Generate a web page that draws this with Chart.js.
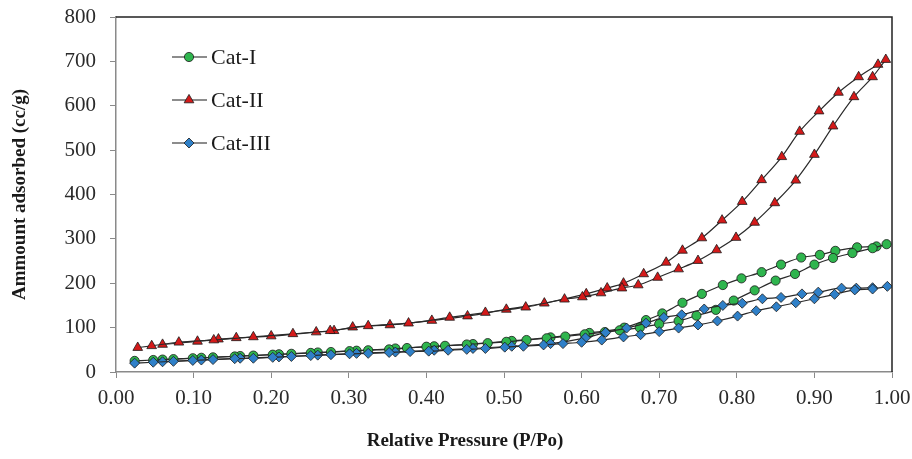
<!DOCTYPE html>
<html>
<head>
<meta charset="utf-8">
<script src="https://cdn.jsdelivr.net/npm/chart.js@4.4.0/dist/chart.umd.min.js"></script>
<style>
  html, body { margin: 0; padding: 0; background: #fff; }
  #wrap { width: 912px; height: 459px; }
</style>
</head>
<body>
<div id="wrap"><canvas id="isothermChart"></canvas></div>
<script>
// axis ticks
const xTicks = [0, 0.1, 0.2, 0.3, 0.4, 0.5, 0.6, 0.7, 0.8, 0.9, 1.0];
const yTicks = [0, 100, 200, 300, 400, 500, 600, 700, 800];

const seriesNames = ['Cat-I', 'Cat-II', 'Cat-III'];

// Cat-I adsorption / desorption (P/Po, cc/g)
const cat1AdsP = [0.024, 0.048, 0.074, 0.099, 0.125, 0.153, 0.177, 0.202, 0.226, 0.251, 0.277, 0.301, 0.325, 0.352, 0.375, 0.400, 0.424, 0.452, 0.479, 0.503, 0.529, 0.555, 0.579, 0.604, 0.630, 0.649, 0.675, 0.700, 0.725, 0.748, 0.773, 0.796, 0.823, 0.850, 0.875, 0.900, 0.924, 0.949, 0.975, 0.993];
const cat1AdsV = [25, 27, 29, 31, 33, 35, 37, 39, 41, 43, 45, 47, 49, 51, 54, 57, 59, 62, 65, 68, 72, 76, 80, 85, 90, 94, 100, 108, 115, 127, 140, 161, 184, 206, 221, 242, 257, 268, 279, 288];
const cat1DesP = [0.060, 0.110, 0.160, 0.210, 0.260, 0.310, 0.360, 0.410, 0.460, 0.510, 0.560, 0.610, 0.655, 0.683, 0.704, 0.730, 0.755, 0.782, 0.806, 0.832, 0.857, 0.883, 0.907, 0.927, 0.955, 0.980];
const cat1DesV = [28, 32, 36, 40, 44, 48, 53, 58, 63, 70, 78, 88, 100, 117, 132, 156, 176, 196, 211, 225, 242, 258, 264, 273, 281, 283];

// Cat-II
const cat2AdsP = [0.028, 0.046, 0.081, 0.126, 0.177, 0.228, 0.276, 0.325, 0.377, 0.430, 0.476, 0.528, 0.578, 0.601, 0.625, 0.652, 0.673, 0.698, 0.725, 0.750, 0.774, 0.799, 0.823, 0.849, 0.876, 0.900, 0.924, 0.951, 0.975, 0.992];
const cat2AdsV = [55, 59, 67, 72, 79, 86, 93, 104, 110, 123, 134, 146, 164, 169, 178, 189, 196, 213, 232, 251, 275, 303, 337, 381, 432, 490, 554, 620, 665, 704];
const cat2DesP = [0.060, 0.105, 0.132, 0.155, 0.200, 0.258, 0.281, 0.305, 0.353, 0.407, 0.453, 0.503, 0.552, 0.606, 0.633, 0.654, 0.680, 0.709, 0.730, 0.755, 0.781, 0.807, 0.832, 0.858, 0.881, 0.906, 0.931, 0.957, 0.982];
const cat2DesV = [62, 69, 74, 77, 81, 90, 93, 101, 106, 116, 126, 141, 155, 176, 189, 200, 221, 247, 274, 302, 342, 384, 433, 485, 542, 588, 630, 665, 693];

// Cat-III
const cat3AdsP = [0.024, 0.048, 0.074, 0.099, 0.125, 0.153, 0.177, 0.202, 0.226, 0.251, 0.277, 0.301, 0.325, 0.352, 0.379, 0.403, 0.428, 0.452, 0.476, 0.501, 0.525, 0.551, 0.576, 0.600, 0.626, 0.654, 0.676, 0.700, 0.725, 0.750, 0.775, 0.801, 0.825, 0.851, 0.876, 0.900, 0.926, 0.952, 0.975, 0.994];
const cat3AdsV = [20, 22, 24, 26, 28, 30, 31, 33, 35, 37, 39, 41, 42, 44, 46, 47, 49, 51, 53, 56, 58, 61, 64, 67, 72, 79, 84, 91, 99, 106, 115, 126, 138, 147, 156, 165, 175, 185, 187, 193];
const cat3DesP = [0.060, 0.110, 0.160, 0.210, 0.260, 0.310, 0.360, 0.410, 0.460, 0.510, 0.560, 0.605, 0.631, 0.658, 0.683, 0.706, 0.729, 0.758, 0.782, 0.807, 0.833, 0.857, 0.884, 0.905, 0.935, 0.954, 0.975];
const cat3DesV = [23, 27, 31, 34, 38, 42, 45, 49, 53, 58, 64, 77, 89, 99, 110, 123, 129, 142, 150, 155, 165, 168, 176, 180, 189, 189, 190];

const toPoints = (xs, ys) => xs.map((x, i) => ({ x: x, y: ys[i] }));

const lineColor = '#2a2a2a';
const styles = [
    { color: '#2fb54e', shape: 'circle', radius: 4.6, order: 2 },
    { color: '#d41a1a', shape: 'triangle', radius: 5.6, order: 1 },
    { color: '#2f80c8', shape: 'rectRot', radius: 5, order: 0 }
];

function makeSet(idx, xs, ys) {
    const s = styles[idx];
    return {
        label: seriesNames[idx],
        data: toPoints(xs, ys),
        showLine: true,
        borderColor: lineColor,
        borderWidth: 1.2,
        cubicInterpolationMode: 'monotone',
        pointStyle: s.shape,
        pointRadius: s.radius,
        pointBackgroundColor: s.color,
        pointBorderColor: '#1a1a1a',
        pointBorderWidth: 0.8,
        order: s.order
    };
}

const datasets = [
    makeSet(0, cat1AdsP, cat1AdsV),
    makeSet(0, cat1DesP, cat1DesV),
    makeSet(1, cat2AdsP, cat2AdsV),
    makeSet(1, cat2DesP, cat2DesV),
    makeSet(2, cat3AdsP, cat3AdsV),
    makeSet(2, cat3DesP, cat3DesV)
];

function drawMarker(ctx, shape, x, y, r, fill) {
    ctx.save();
    ctx.fillStyle = fill;
    ctx.strokeStyle = '#1a1a1a';
    ctx.lineWidth = 0.8;
    ctx.beginPath();
    if (shape === 'circle') {
        ctx.arc(x, y, r, 0, Math.PI * 2);
    } else if (shape === 'triangle') {
        ctx.moveTo(x, y - r);
        ctx.lineTo(x + r * 0.866, y + r * 0.5);
        ctx.lineTo(x - r * 0.866, y + r * 0.5);
        ctx.closePath();
    } else {
        ctx.moveTo(x, y - r);
        ctx.lineTo(x + r, y);
        ctx.lineTo(x, y + r);
        ctx.lineTo(x - r, y);
        ctx.closePath();
    }
    ctx.fill();
    ctx.stroke();
    ctx.restore();
}

// frame on top/right, inner legend and x title
const decorPlugin = {
    id: 'decor',
    afterDraw(chart) {
        const ctx = chart.ctx;
        const a = chart.chartArea;
        ctx.save();
        ctx.strokeStyle = '#222222';
        ctx.lineWidth = 1.5;
        ctx.beginPath();
        ctx.moveTo(a.left, a.top);
        ctx.lineTo(a.right, a.top);
        ctx.lineTo(a.right, a.bottom);
        ctx.stroke();

        // legend
        ctx.font = '22px "Liberation Serif"';
        ctx.textBaseline = 'middle';
        ctx.fillStyle = '#1a1a1a';
        seriesNames.forEach((name, i) => {
            const y = 57 + i * 43;
            ctx.strokeStyle = '#1a1a1a';
            ctx.lineWidth = 1.2;
            ctx.beginPath();
            ctx.moveTo(172, y);
            ctx.lineTo(207, y);
            ctx.stroke();
            drawMarker(ctx, styles[i].shape, 189, y, styles[i].radius, styles[i].color);
            ctx.fillText(name, 211, y + 1);
        });

        // x axis title
        ctx.font = 'bold 19px "Liberation Serif"';
        ctx.textAlign = 'center';
        ctx.fillText('Relative Pressure (P/Po)', 465, 441);
        ctx.restore();
    }
};

const tickFont = { family: 'Liberation Serif', size: 21 };

new Chart(document.getElementById('isothermChart'), {
    type: 'scatter',
    data: { datasets: datasets },
    options: {
        responsive: true,
        maintainAspectRatio: false,
        animation: false,
        layout: { padding: { left: 0, right: 20, top: 17, bottom: 0 } },
        scales: {
            x: {
                type: 'linear',
                min: 0,
                max: 1,
                afterBuildTicks: (scale) => { scale.ticks = xTicks.map(v => ({ value: v })); },
                afterFit: (scale) => {
                    scale.height = 87;
                    scale.paddingLeft = 0;
                    scale.paddingRight = 0;
                },
                ticks: {
                    font: tickFont,
                    color: '#2a2a2a',
                    padding: 8,
                    maxRotation: 0,
                    callback: (v) => Number(v).toFixed(2)
                },
                grid: { drawOnChartArea: false, drawTicks: true, tickLength: 6, color: '#8a8a8a' },
                border: { display: true, color: '#8a8a8a', width: 1.5 }
            },
            y: {
                min: 0,
                max: 800,
                afterBuildTicks: (scale) => { scale.ticks = yTicks.map(v => ({ value: v })); },
                afterFit: (scale) => {
                    scale.width = 116;
                    scale.paddingTop = 0;
                    scale.paddingBottom = 0;
                },
                ticks: {
                    font: tickFont,
                    color: '#2a2a2a',
                    padding: 14
                },
                grid: { drawOnChartArea: false, drawTicks: true, tickLength: 6, color: '#8a8a8a' },
                border: { display: true, color: '#8a8a8a', width: 1.5 },
                title: {
                    display: true,
                    text: 'Ammount adsorbed (cc/g)',
                    font: { family: 'Liberation Serif', size: 19, weight: 'bold' },
                    color: '#1a1a1a',
                    padding: { top: 9, bottom: 0 }
                }
            }
        },
        plugins: {
            legend: { display: false },
            tooltip: { enabled: false }
        }
    },
    plugins: [decorPlugin]
});
</script>
</body>
</html>
